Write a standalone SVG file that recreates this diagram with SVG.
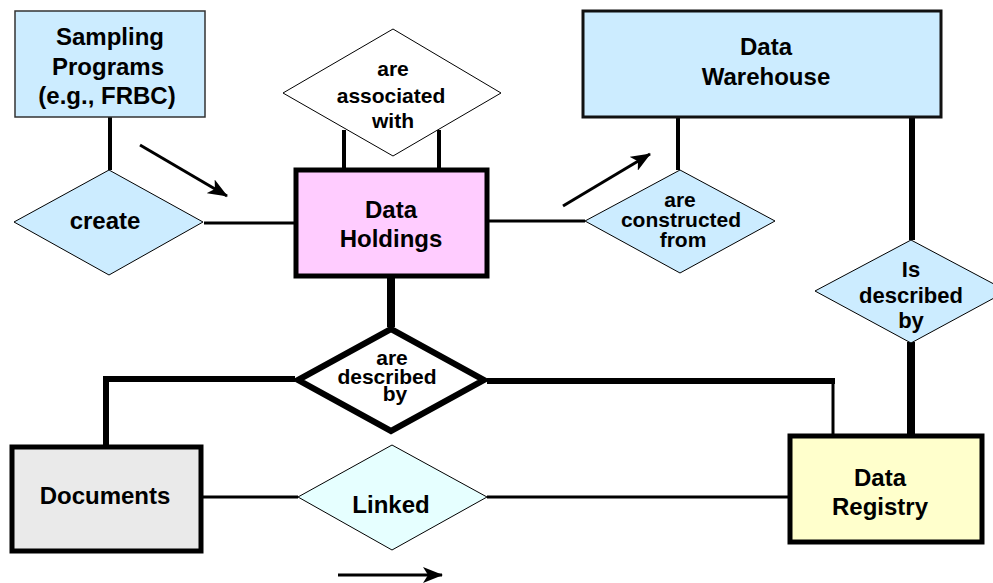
<svg xmlns="http://www.w3.org/2000/svg" width="993" height="583" viewBox="0 0 993 583">
<style>
text{font-family:"Liberation Sans",Arial,sans-serif;font-weight:bold;fill:#000;text-anchor:middle}
.t24{font-size:24px}
.t22{font-size:22px}
.t21{font-size:21px}
.c{fill:none;stroke:#000;stroke-linecap:butt}
.ar{fill:none;stroke:#000;stroke-width:3}
</style>
<defs>
<marker id="ah" viewBox="0 0 20 16" refX="19" refY="8" markerWidth="20" markerHeight="16" markerUnits="userSpaceOnUse" orient="auto">
<path d="M0,0 L20,8 L0,16 L5,8 Z" fill="#000"/>
</marker>
</defs>
<rect width="993" height="583" fill="#fff"/>
<g id="connectors">
<line class="c" x1="110" y1="117" x2="110" y2="170" stroke-width="4"/>
<line class="c" x1="204" y1="223" x2="295" y2="223" stroke-width="3"/>
<line class="c" x1="344" y1="130" x2="344" y2="170" stroke-width="4"/>
<line class="c" x1="439" y1="130" x2="439" y2="170" stroke-width="4"/>
<line class="c" x1="487" y1="221" x2="585" y2="221" stroke-width="3"/>
<line class="c" x1="678" y1="117" x2="678" y2="170" stroke-width="4"/>
<line class="c" x1="912" y1="117" x2="912" y2="240" stroke-width="6"/>
<line class="c" x1="911" y1="342" x2="911" y2="434" stroke-width="8"/>
<line class="c" x1="391" y1="276" x2="391" y2="327" stroke-width="8"/>
<polyline class="c" points="295,379 106,379 106,445" stroke-width="6"/>
<polyline class="c" points="487,381 835,381" stroke-width="6"/>
<line class="c" x1="833" y1="381" x2="833" y2="434" stroke-width="3"/>
<line class="c" x1="202" y1="497" x2="298" y2="497" stroke-width="3"/>
<line class="c" x1="487" y1="497" x2="788" y2="497" stroke-width="3"/>
<line class="ar" x1="140" y1="145" x2="227" y2="196" marker-end="url(#ah)"/>
<line class="ar" x1="563" y1="206" x2="650" y2="154" marker-end="url(#ah)"/>
<line class="ar" x1="338" y1="575" x2="442" y2="575" marker-end="url(#ah)"/>
</g>
<g id="sampling">
<rect x="15" y="11" width="190" height="106" fill="#CCECFF" stroke="#333" stroke-width="1.5"/>
<text class="t24" x="110" y="45">Sampling</text>
<text class="t24" x="108" y="75">Programs</text>
<text class="t24" x="107" y="104">(e.g., FRBC)</text>
</g>
<g id="create">
<polygon points="14,222 109,170 203,222 109,275" fill="#CCECFF" stroke="#000" stroke-width="1"/>
<text class="t24" x="105" y="229">create</text>
</g>
<g id="associated">
<polygon points="283,93 393,29 501,93 393,156" fill="#fff" stroke="#000" stroke-width="1"/>
<text class="t21" x="393" y="76">are</text>
<text class="t21" x="391" y="103">associated</text>
<text class="t21" x="393" y="128">with</text>
</g>
<g id="holdings">
<rect x="296" y="170" width="191" height="106" fill="#FFCCFF" stroke="#000" stroke-width="5"/>
<text class="t24" x="391" y="218">Data</text>
<text class="t24" x="391" y="247">Holdings</text>
</g>
<g id="warehouse">
<rect x="583" y="11" width="358" height="106" fill="#CCECFF" stroke="#111" stroke-width="3"/>
<text class="t24" x="766" y="55">Data</text>
<text class="t24" x="766" y="85">Warehouse</text>
</g>
<g id="constructed">
<polygon points="585,221 680,170 775,221 680,273" fill="#CCECFF" stroke="#000" stroke-width="1"/>
<text class="t21" x="680" y="207">are</text>
<text class="t21" x="681" y="227">constructed</text>
<text class="t21" x="683" y="247">from</text>
</g>
<g id="isdescribed">
<polygon points="815,291 911,240 1007,291 911,343" fill="#CCECFF" stroke="#000" stroke-width="1"/>
<text class="t22" x="911" y="277">Is</text>
<text class="t22" x="911" y="303">described</text>
<text class="t22" x="911" y="328">by</text>
</g>
<g id="aredescribed">
<polygon points="298,380 391,329 484,380 391,431" fill="#fff" stroke="#000" stroke-width="6" stroke-linejoin="miter"/>
<text class="t21" x="392" y="365">are</text>
<text class="t21" x="387" y="384">described</text>
<text class="t21" x="395" y="401">by</text>
</g>
<g id="documents">
<rect x="12" y="447" width="189" height="104" fill="#EAEAEA" stroke="#000" stroke-width="5"/>
<text class="t24" x="105" y="504">Documents</text>
</g>
<g id="linked">
<polygon points="298,497 392,445 487,497 392,550" fill="#E6FFFF" stroke="#000" stroke-width="1"/>
<text class="t24" x="391" y="513">Linked</text>
</g>
<g id="registry">
<rect x="790" y="436" width="192" height="106" fill="#FFFFCC" stroke="#000" stroke-width="5"/>
<text class="t24" x="880" y="486">Data</text>
<text class="t24" x="880" y="515">Registry</text>
</g>
</svg>
